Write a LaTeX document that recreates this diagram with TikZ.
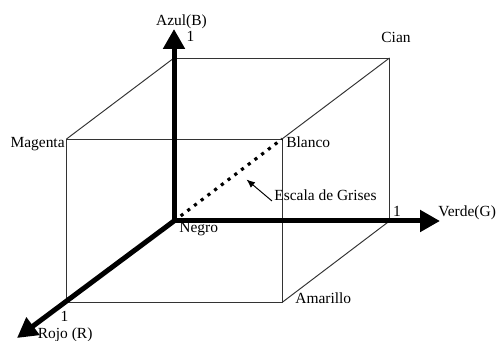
\documentclass[tikz,border=0pt]{standalone}
\usepackage{fontspec}
\setmainfont{Liberation Serif}
\usepackage{tikz}
\usetikzlibrary{arrows.meta,positioning,calc}

\begin{document}
\begin{tikzpicture}[
      every node/.style={font=\fontsize{8.8}{10}\selectfont, inner sep=0pt},
      edge/.style={line width=0.55pt, black!80},
      axis/.style={-{Triangle[length=0.4cm, width=0.42cm]}, line width=0.1cm},
      gris/.style={line width=1.8pt, dash pattern=on 1.8pt off 3pt},
      arr/.style={-{Latex[length=1.7mm, width=1.4mm]}, line width=0.55pt}
  ]
    \useasboundingbox (0,0) rectangle (9.96,6.82);

    % --- Cube corners ---
    \coordinate (negro)    at (3.48, 2.40);
    \coordinate (azul1)    at (3.48, 5.66);
    \coordinate (cian)     at (7.79, 5.66);
    \coordinate (verde1)   at (7.79, 2.40);
    \coordinate (magenta)  at (1.33, 4.04);
    \coordinate (blanco)   at (5.64, 4.04);
    \coordinate (amarillo) at (5.64, 0.77);
    \coordinate (rojo1)    at (1.33, 0.77);

    % axis tips
    \coordinate (btip) at (3.48, 6.24);
    \coordinate (gtip) at (8.80, 2.40);
    \coordinate (rtip) at (0.34, 0.06);

    % --- Cube edges ---
    \draw[edge] (magenta) -- (blanco) -- (amarillo) -- (rojo1) -- cycle;
    \draw[edge] (azul1) -- (cian) -- (verde1);
    \draw[edge] (magenta) -- (azul1);
    \draw[edge] (blanco) -- (cian);
    \draw[edge] (amarillo) -- (verde1);

    % --- Grey scale diagonal ---
    \draw[gris] (negro) -- (blanco);

    % --- Axes ---
    \draw[axis] (negro) -- (btip);
    \draw[axis] (negro) -- (gtip);
    \draw[axis] (negro) -- (rtip);

    % --- Labels ---
    \node[anchor=base] (azul) at (3.63, 6.30) {Azul(B)};
    \node[anchor=base] (b1) at (3.81, 5.98) {1};
    \node[anchor=base] (lcian) at (7.92, 5.96) {Cian};
    \node[anchor=base east] (lmag) at (1.30, 3.86) {Magenta};
    \node[anchor=base west] (lbla) at (5.72, 3.86) {Blanco};
    \node[anchor=base] (g1) at (7.94, 2.48) {1};
    \node[anchor=base west] (verde) at (8.76, 2.48) {Verde(G)};
    \node[anchor=base west] (lneg) at (3.58, 2.16) {Negro};
    \node[anchor=base west] (lama) at (5.90, 0.74) {Amarillo};
    \node[anchor=base] (r1) at (1.29, 0.39) {1};
    \node[anchor=base west] (rojo) at (0.75, 0.04) {Rojo (R)};

    % grey scale pointer
    \node[anchor=base west] (esc) at (5.48, 2.80) {Escala de Grises};
    \coordinate (gpt) at (4.93, 3.23);
    \draw[arr] ([xshift=-0.4mm]esc.base west) -- (gpt);

  \end{tikzpicture}
\end{document}
